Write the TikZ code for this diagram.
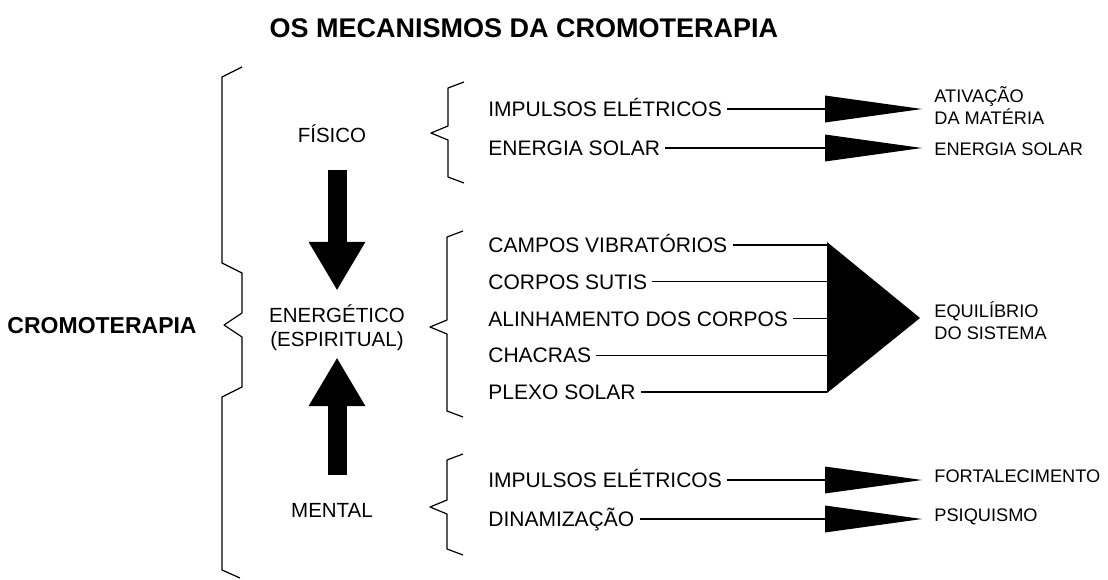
\documentclass[tikz,border=0pt]{standalone}
\usepackage{fontspec}
\setmainfont{Liberation Sans}
\usepackage{tikz}
\usetikzlibrary{positioning,calc,arrows.meta}

% a curly bracket drawn as a polyline: x, top, tip, bottom
\newcommand{\grpbrace}[4]{%
  \draw[bracestyle] ({#1+16},{#2-6}) -- (#1,#2) -- (#1,{#3-7}) -- ({#1-17},#3)
    -- (#1,{#3+7}) -- (#1,#4) -- ({#1+16},{#4+6});}

\begin{document}
\begin{tikzpicture}[x=0.5pt,y=-0.5pt,
          item/.style={anchor=west,inner sep=0pt,text height=7.5pt,text depth=0pt,
            font=\fontsize{10.5}{12}\selectfont},
          result/.style={anchor=west,inner sep=0pt,text height=6.5pt,text depth=0pt,
            font=\fontsize{9.1}{11}\selectfont},
          level/.style={inner sep=0pt,text height=7.3pt,text depth=0pt,
            font=\fontsize{10.25}{12}\selectfont},
          heading/.style={inner sep=0pt,text height=8.2pt,text depth=0pt,
            font=\fontsize{11.5}{13}\selectfont\bfseries},
          bracestyle/.style={line width=0.6pt,line join=round},
          link/.style={line width=0.7pt,shorten <=2.5pt},
          wedgelink/.style={link,shorten >=6pt,
            -{Triangle[width=13.5pt,length=48.5pt,line width=0pt]}},
          blockarrow/.style={line width=9.5pt,
            -{Triangle[width=28.5pt,length=24pt,line width=0pt]}}
          ]
          \useasboundingbox (0,0) rectangle (1108,579);
          % the title
          \node[heading,text height=9.7pt,font=\fontsize{13.5}{15}\selectfont\bfseries] (title)
            at (524,28) {OS MECANISMOS DA CROMOTERAPIA};
          % the whole
          \node[heading,anchor=east] (cromo) at (197,325) {CROMOTERAPIA};
          \draw[bracestyle] (242,67) -- (222,77) -- (222,263) -- (242,273) -- (242,313)
            -- (224,325) -- (242,337) -- (242,387) -- (222,397) -- (222,570) -- (240,578);
          % the three levels
          \node[level] (fis) at (332,135.5) {FÍSICO};
          \node[level] (ener) at (337,315.5) {ENERGÉTICO};
          \node[level] (esp) at (337,339.5) {(ESPIRITUAL)};
          \node[level] (ment) at (332,510.5) {MENTAL};
          \draw[blockarrow,shorten <=13.5pt,shorten >=9pt] (ener.north |- fis.south) -- (ener.north);
          \draw[blockarrow,shorten <=14pt,shorten >=5.5pt] (esp.south |- ment.north) -- (esp.south);
          % the physical group
          \grpbrace{448}{88}{133}{177}
          \node[item] (f1) at (488,109) {IMPULSOS ELÉTRICOS};
          \node[item] (f2) at (488,148) {ENERGIA SOLAR};
          \node[result] (r1) at (934,96) {ATIVAÇÃO};
          \node[result] (r1b) at (934,118) {DA MATÉRIA};
          \node[result] (r2) at (934,149) {ENERGIA SOLAR};
          \draw[wedgelink] (f1.east) -- (f1.east -| r1.west);
          \draw[wedgelink] (f2.east) -- (f2.east -| r2.west);
          % the energetic group
          \grpbrace{447}{237}{327}{411}
          \foreach \i/\xtext in {1/CAMPOS VIBRATÓRIOS,2/CORPOS SUTIS,3/ALINHAMENTO DOS CORPOS,
              4/CHACRAS,5/PLEXO SOLAR}
            \node[item] (e\i) at (488,{245+36.75*(\i-1)}) {\xtext};
          \coordinate (tb) at (827,318);
          \fill (827,242) -- (920,318) -- (827,393) -- cycle;
          \foreach \i in {1,...,5}
            \draw[link] (e\i.east) -- (e\i.east -| tb);
          \node[result] (r3) at (934,311) {EQUILÍBRIO};
          \node[result] (r3b) at (934,333) {DO SISTEMA};
          % the mental group
          \grpbrace{447}{460}{507}{549}
          \node[item] (m1) at (488,480) {IMPULSOS ELÉTRICOS};
          \node[item] (m2) at (488,519) {DINAMIZAÇÃO};
          \node[result] (r4) at (934,476) {FORTALECIMENTO};
          \node[result] (r5) at (934,515) {PSIQUISMO};
          \draw[wedgelink] (m1.east) -- (m1.east -| r4.west);
          \draw[wedgelink] (m2.east) -- (m2.east -| r5.west);
        \end{tikzpicture}
\end{document}
